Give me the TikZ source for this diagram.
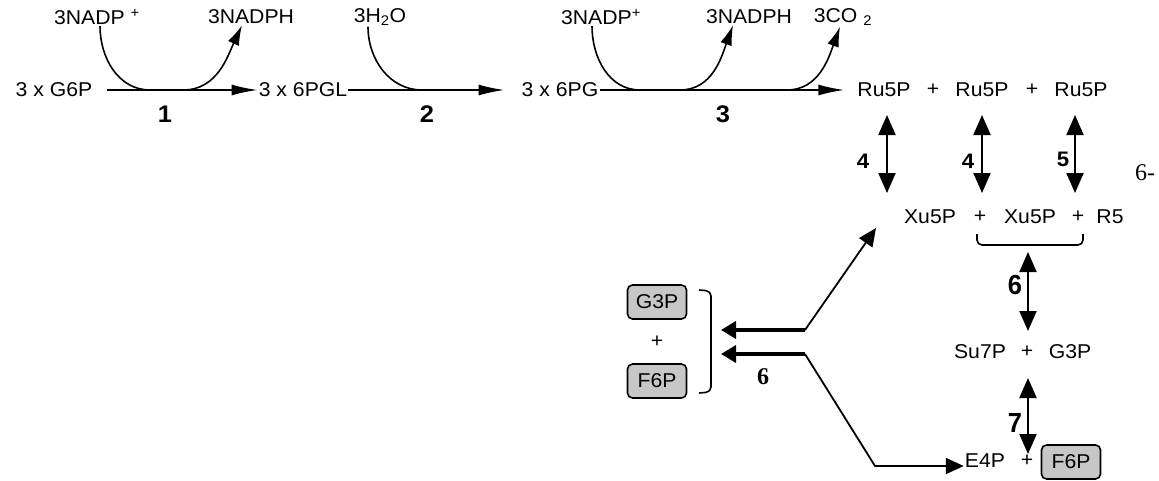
\documentclass[tikz,border=0pt]{standalone}
\usepackage{fontspec}
\setmainfont[FakeStretch=1.06]{Liberation Sans}
\newfontfamily\timesfont{Liberation Serif}
\usetikzlibrary{arrows.meta}
\usetikzlibrary{positioning}
\tikzset{mol/.style = {inner sep = 1, font = \fontsize{20}{20}\selectfont}}
\tikzset{num/.style = {inner sep = 1, font = \fontsize{24}{24}\selectfont\bfseries}}
\tikzset{smallnum/.style = {inner sep = 1, font = \fontsize{21}{21}\selectfont\bfseries}}
\tikzset{cbox/.style = {mol, draw, fill = mgray, rounded corners = 5, line width = 1.6, minimum width = 59, minimum height = 34}}
\tikzset{rxn/.style = {line width = 1.7, -{Latex[length = 26pt, width = 11pt]}}}
\tikzset{curv/.style = {line width = 1.6}}
\tikzset{curvtip/.style = {line width = 1.6, -{Latex[length = 20pt, width = 12pt]}}}
\tikzset{dbl/.style = {line width = 2, {Triangle[length = 20pt, width = 17pt]}-{Triangle[length = 20pt, width = 17pt]}}}
\definecolor{mgray}{rgb}{0.78, 0.78, 0.78}

\begin{document}
\begin{tikzpicture}[x = 1pt, y = -1pt]
      \useasboundingbox (0, 0) rectangle (1159, 480);

      % oxidative part
      \node [mol] (g6p) at (54, 90) {3 x G6P};
      \node [mol] (pgl) at (303, 90) {3 x 6PGL};
      \node [mol] (pg) at (560, 90) {3 x 6PG};
      \node [mol] (ruA) at (884, 90) {Ru5P};
      \node [mol] (plA) at (933, 90) {+};
      \node [mol] (ruB) at (982, 90) {Ru5P};
      \node [mol] (plB) at (1032, 90) {+};
      \node [mol] (ruC) at (1081, 90) {Ru5P};

      \node [mol] (nadpA) at (97, 17) {3NADP \textsuperscript{+}};
      \node [mol] (nadphA) at (251, 17) {3NADPH};
      \node [mol] (water) at (380, 17) {3H\textsubscript{2}O};
      \node [mol] (nadpB) at (601, 17) {3NADP\textsuperscript{+}};
      \node [mol] (nadphB) at (749, 17) {3NADPH};
      \node [mol] (co2) at (843, 17) {3CO \textsubscript{2}};

      \node [num] (s1) at (165, 114) {1};
      \node [num] (s2) at (427, 114) {2};
      \node [num] (s3) at (723, 114) {3};

      \draw [rxn] (g6p.east) ++(14, 0) -- (pgl.west);
      \draw [rxn] (pgl.east) -- ([xshift = -16]pg.west);
      \draw [rxn] (pg.east) -- ([xshift = -12]ruA.west);

      \coordinate (inA) at (150, 90);
      \coordinate (outA) at (183, 90);
      \coordinate (inW) at (422, 90);
      \coordinate (inB) at (640, 90);
      \coordinate (outB) at (680, 90);
      \coordinate (outC) at (787, 90);

      \draw [curv] ([xshift = 3]nadpA.south) to [out = -90, in = 180] (inA);
      \draw [curvtip] (outA) to [out = 0, in = -115] ([xshift = -9]nadphA.south);
      \draw [curv] ([xshift = -12]water.south) to [out = -90, in = 180] (inW);
      \draw [curv] ([xshift = -9]nadpB.south) to [out = -90, in = 180] (inB);
      \draw [curvtip] (outB) to [out = 0, in = -110] ([xshift = -16]nadphB.south);
      \draw [curvtip] (outC) to [out = 0, in = -110] ([xshift = -3]co2.south);

      % non-oxidative part
      \node [mol] (xuA) at (930, 217) {Xu5P};
      \node [mol] (plC) at (980, 217) {+};
      \node [mol] (xuB) at (1030, 217) {Xu5P};
      \node [mol] (plD) at (1078, 217) {+};
      \node [mol] (r5) at (1110, 217) {R5};

      \node [mol] (su7p) at (980, 352) {Su7P};
      \node [mol] (plE) at (1027, 352) {+};
      \node [mol] (g3pA) at (1070, 352) {G3P};

      \node [mol] (e4p) at (985, 461) {E4P};
      \node [mol] (plF) at (1027, 461) {+};
      \node [cbox] (f6pA) at (1071, 462) {F6P};

      \node [cbox] (g3pB) at (657, 302) {G3P};
      \node [mol] (plG) at (657, 342) {+};
      \node [cbox] (f6pB) at (657, 381) {F6P};

      \node [smallnum] (s4a) at (863, 161) {4};
      \node [smallnum] (s4b) at (968, 161) {4};
      \node [smallnum] (s5) at (1063, 159) {5};
      \node [num, yscale = 1.15] (s6a) at (1015, 285) {6};
      \node [num, yscale = 1.15] (s7) at (1015, 423) {7};
      \node [num, font = \fontsize{24}{24}\selectfont\timesfont\bfseries] (s6b) at (763, 377) {6};
      \node [inner sep = 1, font = \fontsize{24}{24}\selectfont\timesfont] (frag) at (1145, 173) {6-};

      \coordinate (tA) at (887, 115);
      \coordinate (bA) at (887, 193);
      \coordinate (tB) at (982, 115);
      \coordinate (bB) at (982, 193);
      \coordinate (tC) at (1075, 115);
      \coordinate (bC) at (1075, 193);
      \coordinate (tD) at (1028, 252);
      \coordinate (bD) at (1028, 331);
      \coordinate (tE) at (1028, 378);
      \coordinate (bE) at (1028, 454);

      \draw [dbl] (tA) -- (bA);
      \draw [dbl] (tB) -- (bB);
      \draw [dbl] (tC) -- (bC);
      \draw [dbl] (tD) -- (bD);
      \draw [dbl] (tE) -- (bE);

      \draw [line width = 1.6, rounded corners = 5] (977, 234) -- (977, 245) -- (1083, 245) -- (1083, 234);
      \draw [line width = 1.6, rounded corners = 5] (699, 290) -- (711, 291) -- (711, 392) -- (699, 393);

      \coordinate (splitA) at (805, 330);
      \coordinate (splitB) at (805, 354);
      \coordinate (kink) at (875, 466);

      \draw [line width = 4, -{Triangle[length = 15pt, width = 17pt]}] (splitA) -- (721, 330);
      \draw [line width = 3.5, -{Triangle[length = 15pt, width = 17pt]}] (splitB) -- (721, 354);
      \draw [line width = 1.8, -{Triangle[length = 18pt, width = 16pt]}] (splitA) -- (876, 228);
      \draw [line width = 1.8, -{Triangle[length = 18pt, width = 16pt]}] (splitB) -- (kink) -- (kink -| e4p.west);
\end{tikzpicture}
\end{document}
